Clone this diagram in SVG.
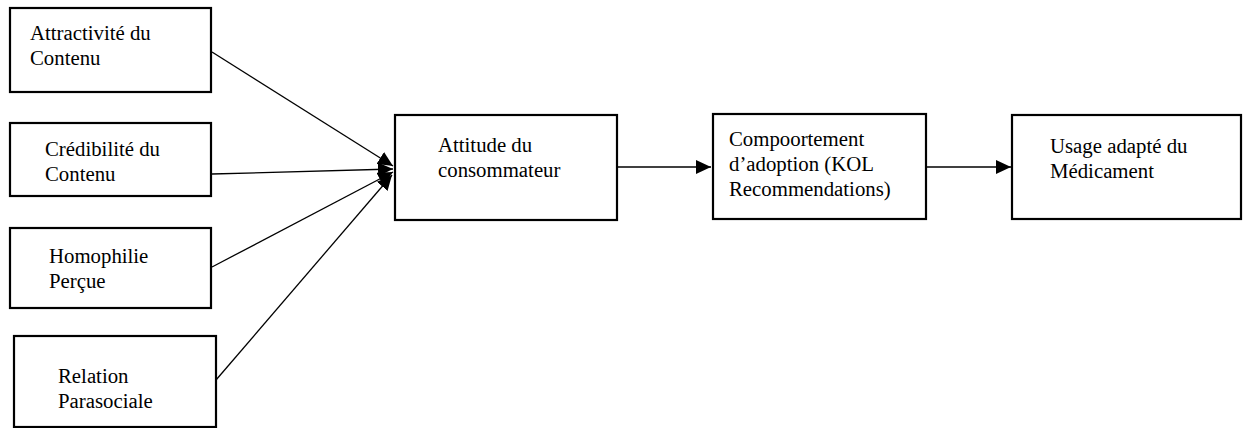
<svg xmlns="http://www.w3.org/2000/svg" width="1244" height="428" viewBox="0 0 1244 428">
<style>
.box{fill:#fff;stroke:#000;stroke-width:2.2}
.t{font-family:"Liberation Serif","Times New Roman",serif;font-size:20.8px;fill:#000}
.c{stroke:#000;stroke-width:1.3;fill:none}
</style>
<defs>
<marker id="ah" markerUnits="userSpaceOnUse" markerWidth="15" markerHeight="14" refX="15" refY="7" orient="auto">
<path d="M0,0 L15,7 L0,14 z" fill="#000"/>
</marker>
</defs>
<rect width="1244" height="428" fill="#fff"/>
<g id="connectors">
<line class="c" x1="212" y1="52" x2="393" y2="166" marker-end="url(#ah)"/>
<line class="c" x1="212" y1="174" x2="393" y2="169" marker-end="url(#ah)"/>
<line class="c" x1="212" y1="267" x2="393" y2="172" marker-end="url(#ah)"/>
<line class="c" x1="216" y1="380" x2="392" y2="175" marker-end="url(#ah)"/>
<line class="c" x1="617" y1="167" x2="711" y2="167" marker-end="url(#ah)"/>
<line class="c" x1="926" y1="167" x2="1011" y2="167" marker-end="url(#ah)"/>
</g>
<g id="n1"><rect class="box" x="10" y="8" width="201" height="84"/>
<text class="t" x="30" y="40">Attractivité du</text><text class="t" x="30" y="65">Contenu</text></g>
<g id="n2"><rect class="box" x="10" y="123" width="201" height="73"/>
<text class="t" x="45" y="156">Crédibilité du</text><text class="t" x="45" y="181">Contenu</text></g>
<g id="n3"><rect class="box" x="10" y="228" width="201" height="80"/>
<text class="t" x="49" y="263">Homophilie</text><text class="t" x="49" y="288">Perçue</text></g>
<g id="n4"><rect class="box" x="14" y="336" width="202" height="91"/>
<text class="t" x="58" y="383">Relation</text><text class="t" x="58" y="408">Parasociale</text></g>
<g id="n5"><rect class="box" x="395" y="115" width="222" height="105"/>
<text class="t" x="438" y="152">Attitude du</text><text class="t" x="438" y="177">consommateur</text></g>
<g id="n6"><rect class="box" x="713" y="114" width="213" height="105"/>
<text class="t" x="729" y="146">Compoortement</text><text class="t" x="729" y="171">d’adoption (KOL</text><text class="t" x="729" y="196">Recommendations)</text></g>
<g id="n7"><rect class="box" x="1012" y="115" width="229" height="104"/>
<text class="t" x="1050" y="153">Usage adapté du</text><text class="t" x="1050" y="178">Médicament</text></g>
</svg>
